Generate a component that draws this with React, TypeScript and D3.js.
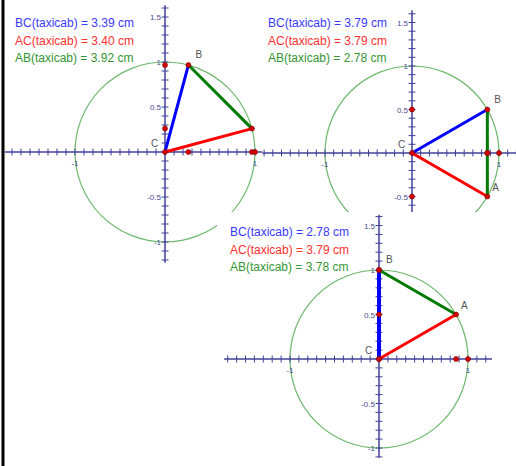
import React from "react";
import * as d3 from "d3";

// ---- data ----
const measureNames = ["BC(taxicab)", "AC(taxicab)", "AB(taxicab)"];
const panel1Values = [3.39, 3.4, 3.92];
const panel2Values = [3.79, 3.79, 2.78];
const panel3Values = [2.78, 3.79, 3.78];
const pointA = [
  [0.966, 0.26],
  [0.866, -0.5],
  [0.866, 0.5],
];
const pointB = [
  [0.26, 0.966],
  [0.866, 0.5],
  [0, 1],
];
const yTickLabels = [1.5, 1, 0.5, -0.5, -1];
const xTickLabels = [-1, 1];

// ---- layout ----
const W = 516;
const H = 466;
const panels = [
  { values: panel1Values, ox: 165, oy: 152, u: 90, xr: [-1.78, 1.08], yr: [-1.23, 1.63], tx: 15, ty: 27 },
  { values: panel2Values, ox: 412, oy: 153, u: 87, xr: [-1.72, 1.2], yr: [-0.7, 1.64], tx: 268, ty: 27 },
  { values: panel3Values, ox: 379, oy: 359, u: 89, xr: [-1.74, 1.27], yr: [-1.11, 1.62], tx: 230, ty: 236 },
];
const textColors = ["#3a3aff", "#ff3030", "#349634"];
const AXIS = "#40409a";
const FONT = "'Liberation Sans', Arial, sans-serif";

function Panel({ p, i }: { p: any; i: number }) {
  const x = d3.scaleLinear().domain([-1, 1]).range([p.ox - p.u, p.ox + p.u]);
  const y = d3.scaleLinear().domain([-1, 1]).range([p.oy + p.u, p.oy - p.u]);
  const A = pointA[i];
  const B = pointB[i];
  const xt = d3.range(Math.ceil(p.xr[0] * 10), Math.floor(p.xr[1] * 10) + 1).map((k) => k / 10);
  const yt = d3.range(Math.ceil(p.yr[0] * 10), Math.floor(p.yr[1] * 10) + 1).map((k) => k / 10);
  const dots = [
    [0, B[1]],
    [0, A[1]],
    [B[0], 0],
    [A[0], 0],
    [1, 0],
    [A[0], A[1]],
    [B[0], B[1]],
    [0, 0],
  ];
  const tri = [
    { a: [0, 0], b: B, c: "#0000ff", w: i === 2 ? 4 : 3 },
    { a: [0, 0], b: A, c: "#ff0000", w: 3 },
    { a: A, b: B, c: "#007a00", w: 3 },
  ];
  return (
    <g>
      <circle cx={x(0)} cy={y(0)} r={x(1) - x(0)} fill="none" stroke="#6cb86c" strokeWidth={1.2} />
      {/* axes */}
      <line x1={x(p.xr[0])} x2={x(p.xr[1])} y1={y(0)} y2={y(0)} stroke={AXIS} strokeWidth={1.5} />
      <line x1={x(0)} x2={x(0)} y1={y(p.yr[0])} y2={y(p.yr[1])} stroke={AXIS} strokeWidth={1.5} />
      {xt.map((t) => (
        <line key={"xt" + t} x1={x(t)} x2={x(t)} y1={y(0) - 3.5} y2={y(0) + 3.5} stroke={AXIS} strokeWidth={1} />
      ))}
      {yt.map((t) => (
        <line key={"yt" + t} x1={x(0) - 3.5} x2={x(0) + 3.5} y1={y(t)} y2={y(t)} stroke={AXIS} strokeWidth={1} />
      ))}
      {yTickLabels.map((t) => (
        <text key={"yl" + t} x={x(0) - 4} y={y(t) + 3} fontSize={8} fill="#4a4a90" textAnchor="end" fontFamily={FONT}>
          {String(t)}
        </text>
      ))}
      {xTickLabels.map((t) => (
        <text key={"xl" + t} x={x(t)} y={y(0) + 14} fontSize={8} fill="#4a4a90" textAnchor="middle" fontFamily={FONT}>
          {String(t)}
        </text>
      ))}
      {/* triangle */}
      {tri.map((s, k) => (
        <line key={"s" + k} x1={x(s.a[0])} y1={y(s.a[1])} x2={x(s.b[0])} y2={y(s.b[1])} stroke={s.c} strokeWidth={s.w} />
      ))}
      {dots.map((d, k) => (
        <circle key={"d" + k} cx={x(d[0])} cy={y(d[1])} r={2.5} fill="#d40000" stroke="#800000" strokeWidth={0.6} />
      ))}
      <text x={x(B[0]) + 7} y={y(B[1]) - 7} fontSize={10} fill="#555" fontFamily={FONT}>B</text>
      {i > 0 && (
        <text x={x(A[0]) + 5} y={y(A[1]) - 6} fontSize={10} fill="#555" fontFamily={FONT}>A</text>
      )}
      <text x={x(0) - 14} y={y(0) - 5} fontSize={10} fill="#555" fontFamily={FONT}>C</text>
      {/* measurements */}
      {measureNames.map((n, k) => (
        <text key={"m" + k} x={p.tx} y={p.ty + k * 17.5} fontSize={12} fill={textColors[k]} fontFamily={FONT}>
          {`${n} = ${p.values[k].toFixed(2)} cm`}
        </text>
      ))}
    </g>
  );
}

export default function App() {
  return (
    <svg
      width={W}
      height={H}
      style={{ position: "fixed", left: 0, top: 0, background: "#fff", display: "block" }}
    >
      <rect x={0} y={0} width={W} height={H} fill="#fff" />
      <Panel p={panels[0]} i={0} />
      <Panel p={panels[1]} i={1} />
      <rect x={217} y={212} width={W - 217} height={H - 212} fill="#fff" />
      <Panel p={panels[2]} i={2} />
      <line x1={3} x2={3} y1={0} y2={H} stroke="#000" strokeWidth={3} />
    </svg>
  );
}
